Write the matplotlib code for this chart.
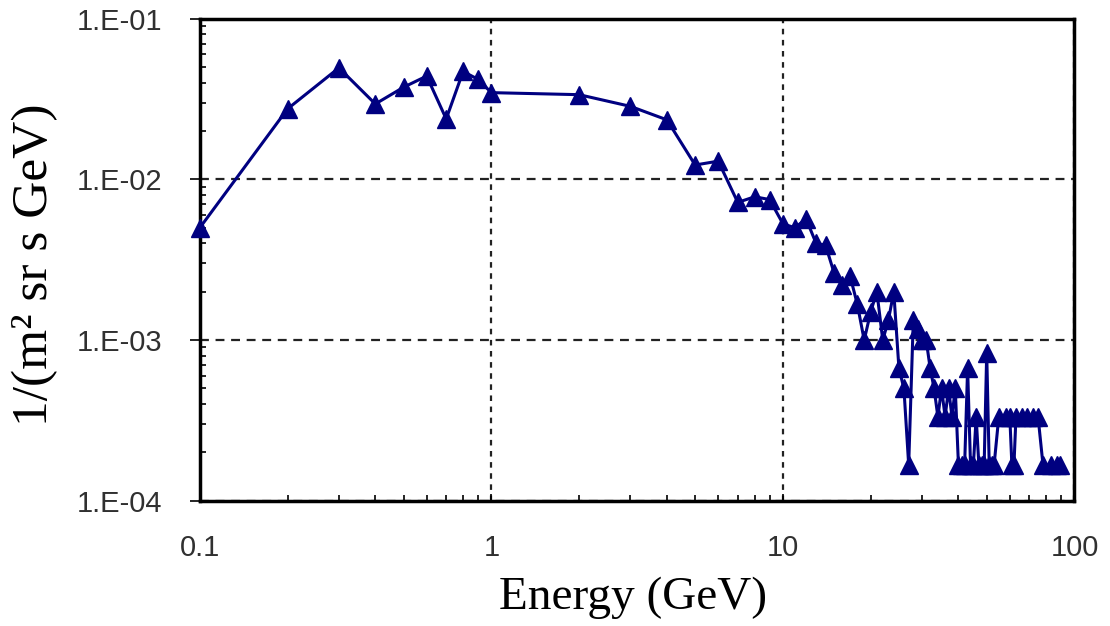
import matplotlib
matplotlib.use("Agg")
import matplotlib.pyplot as plt
from matplotlib.ticker import FixedLocator, LogLocator, FuncFormatter, NullFormatter
import numpy as np

# Measured differential flux vs. energy (zero-count bins left out)
energy = [0.1, 0.2, 0.3, 0.4, 0.5, 0.6, 0.7, 0.8, 0.9, 1.0,
          2, 3, 4, 5, 6, 7, 8, 9, 10,
          11, 12, 13, 14, 15, 16, 17, 18, 19, 20,
          21, 22, 23, 24, 25, 26, 27, 28, 29, 30,
          31, 32, 33, 34, 35, 36, 37, 38, 39, 40,
          41, 42, 43, 44, 45, 46, 47, 48, 49, 50,
          51, 52, 53, 55, 58, 60, 61, 62, 63, 66,
          69, 72, 75, 78, 83, 87, 89]

flux = [5.0e-3, 2.75e-2, 4.95e-2, 2.95e-2, 3.75e-2, 4.4e-2, 2.38e-2, 4.7e-2, 4.2e-2, 3.47e-2,
        3.37e-2, 2.85e-2, 2.35e-2, 1.23e-2, 1.3e-2, 7.2e-3, 7.8e-3, 7.5e-3, 5.3e-3,
        5.0e-3, 5.7e-3, 4.0e-3, 3.9e-3, 2.6e-3, 2.2e-3, 2.5e-3, 1.67e-3, 1.0e-3, 1.5e-3,
        2.0e-3, 1.0e-3, 1.33e-3, 2.0e-3, 6.67e-4, 5.0e-4, 1.67e-4, 1.33e-3, 1.17e-3, 1.0e-3,
        1.0e-3, 6.67e-4, 5.0e-4, 3.33e-4, 5.0e-4, 3.33e-4, 5.0e-4, 3.33e-4, 5.0e-4, 1.67e-4,
        1.67e-4, 1.67e-4, 6.67e-4, 1.67e-4, 1.67e-4, 3.33e-4, 1.67e-4, 1.67e-4, 1.67e-4, 8.33e-4,
        1.67e-4, 1.67e-4, 1.67e-4, 3.33e-4, 3.33e-4, 3.33e-4, 1.67e-4, 1.67e-4, 3.33e-4, 3.33e-4,
        3.33e-4, 3.33e-4, 3.33e-4, 1.67e-4, 1.67e-4, 1.67e-4, 1.67e-4]

x_ticks = [0.1, 1, 10, 100]
y_ticks = [1e-4, 1e-3, 1e-2, 1e-1]

navy = "#000080"
tick_font = "Liberation Sans"
label_font = "Liberation Serif"

fig = plt.figure(figsize=(11.1, 6.26), dpi=100)
ax = fig.add_axes([0.180, 0.200, 0.788, 0.770])

ax.plot(energy, flux, color=navy, lw=2.2, marker="^", ms=12.5,
        mfc=navy, mec=navy, clip_on=False, zorder=3)

ax.set_xscale("log")
ax.set_yscale("log")
ax.set_xlim(0.1, 100)
ax.set_ylim(1e-4, 1e-1)

ax.xaxis.set_major_locator(FixedLocator(x_ticks))
ax.xaxis.set_minor_locator(LogLocator(base=10, subs=np.arange(2, 10)))
ax.xaxis.set_major_formatter(FuncFormatter(lambda v, p: f"{v:g}"))
ax.xaxis.set_minor_formatter(NullFormatter())

ax.yaxis.set_major_locator(FixedLocator(y_ticks))
ax.yaxis.set_minor_locator(LogLocator(base=10, subs=np.arange(2, 10)))
ax.yaxis.set_major_formatter(FuncFormatter(lambda v, p: f"1.E{int(round(np.log10(v))):03d}"))
ax.yaxis.set_minor_formatter(NullFormatter())

# dashed gridlines at the decades only
ax.xaxis.grid(True, which="major", color="#222222", lw=1.6, ls=(0, (2.5, 2.5)))
ax.yaxis.grid(True, which="major", color="#222222", lw=1.6, ls=(0, (4, 3)))
ax.set_axisbelow(True)

ax.tick_params(axis="x", which="major", direction="in", length=5, width=1.2,
               pad=24, labelsize=21, labelcolor="#303030")
ax.tick_params(axis="x", which="minor", direction="in", length=4, width=1.2)
ax.tick_params(axis="y", which="major", direction="out", length=7, width=1.2,
               pad=20, labelsize=21, labelcolor="#303030")
ax.tick_params(axis="y", which="minor", direction="in", length=4, width=1.2)
for lbl in ax.get_xticklabels() + ax.get_yticklabels():
    lbl.set_family(tick_font)

for s in ax.spines.values():
    s.set_linewidth(2.5)
    s.set_color("black")

fig.text(633 / 1110, 1 - 598 / 626, "Energy (GeV)", ha="center", va="center",
         fontsize=34, family=label_font)
fig.text(35 / 1110, 1 - 265 / 626, "1/(m² sr s GeV)", ha="center", va="center",
         rotation=90, fontsize=37, family=label_font)

fig.savefig("out.png", dpi=100)
